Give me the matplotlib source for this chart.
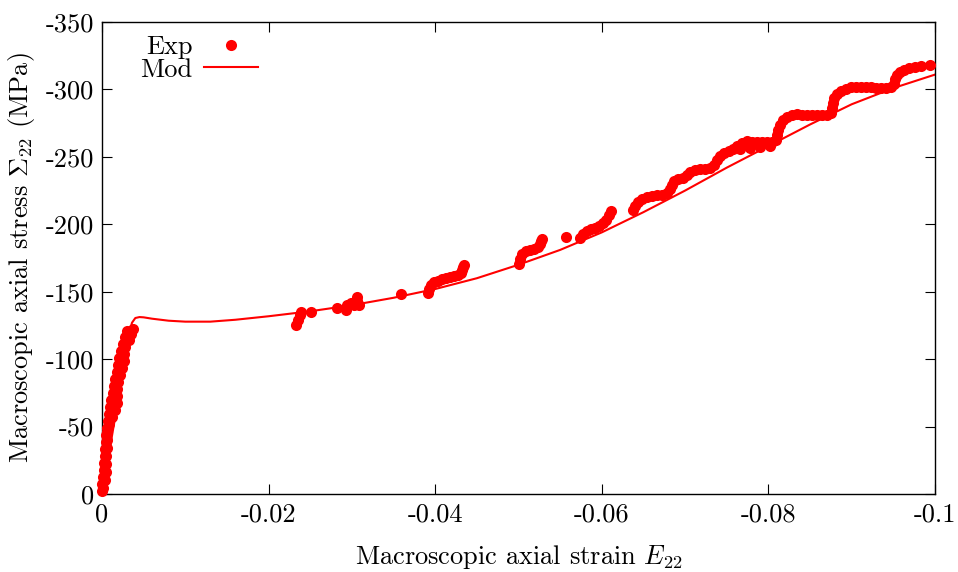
import matplotlib
matplotlib.use("Agg")
import matplotlib.pyplot as plt
from matplotlib.ticker import FixedLocator

plt.rcParams['font.family'] = ['cmr10', 'DejaVu Serif']
plt.rcParams['mathtext.fontset'] = 'cm'
plt.rcParams['axes.unicode_minus'] = False

# ---------------- data ----------------
# Experimental points (strain, stress in MPa)
exp_strain = [
    # elastic loading (left edge of band)
    0, 0, -0.00012, -0.00024, -0.00024, -0.00036, -0.00036, -0.00048, -0.00048, -0.0006,
    -0.00072, -0.00084, -0.00096, -0.00108, -0.00132, -0.00144, -0.00156, -0.0018, -0.00192, -0.00204,
    -0.00228, -0.00252, -0.00276, -0.003,
    # elastic loading (right edge of band)
    -0.00012, -0.00036, -0.00048, -0.00048, -0.00048, -0.0006, -0.0006, -0.0006, -0.00084, -0.0012,
    -0.00156, -0.0018, -0.0018, -0.0018, -0.00192, -0.00216, -0.0024, -0.00264, -0.00264, -0.00276,
    -0.00325, -0.00349, -0.00373,
    # around -0.024
    -0.02332, -0.02356, -0.0238, -0.02392, -0.02512,
    # around -0.03
    -0.02825, -0.02933, -0.02945, -0.02993, -0.03029, -0.03065, -0.03065, -0.03089,
    -0.03594,
    # around -0.04
    -0.03918, -0.0393, -0.03954, -0.0399, -0.04038, -0.04087, -0.04135, -0.04183, -0.04231, -0.04279,
    -0.04315, -0.04327, -0.04339, -0.04351,
    # around -0.05
    -0.05, -0.05024, -0.05048, -0.05096, -0.05144, -0.05192, -0.0524, -0.05264, -0.05276, -0.05288,
    -0.05565,
    # around -0.06
    -0.05733, -0.05769, -0.05817, -0.05865, -0.05913, -0.05962, -0.0601, -0.06046, -0.06082, -0.06106,
    # -0.063 to -0.1
    -0.0637, -0.06394, -0.0643, -0.06478, -0.06538, -0.06599, -0.06659, -0.06719, -0.06779, -0.06815,
    -0.06839, -0.06863, -0.06911, -0.06971, -0.07019, -0.07055, -0.07115, -0.07175, -0.07236, -0.07296,
    -0.07344, -0.0738, -0.07416, -0.07464, -0.07524, -0.07572, -0.0762, -0.0768, -0.0774, -0.078,
    -0.07861, -0.07921, -0.07981, -0.08041, -0.08089, -0.08101, -0.08113, -0.08137, -0.08173, -0.08221,
    -0.08281, -0.08341, -0.08401, -0.08462, -0.08522, -0.08582, -0.08642, -0.08702, -0.0875, -0.08762,
    -0.08774, -0.08786, -0.08822, -0.0887, -0.0893, -0.0899, -0.0905, -0.09111, -0.09171, -0.09231,
    -0.09291, -0.09351, -0.09411, -0.09471, -0.09507, -0.09519, -0.09543, -0.09579, -0.09627, -0.09688,
    -0.0976, -0.09832, -0.0994,
    # lower strand near -0.077
    -0.07656, -0.07776, -0.07897, -0.08017,
]
exp_stress = [
    -2.2, -7.4, -12.6, -17.8, -23.0, -28.2, -33.4, -38.6, -43.7, -48.9,
    -54.1, -59.3, -64.5, -69.7, -74.9, -80.1, -85.3, -90.5, -95.7, -100.8,
    -106.0, -111.2, -116.4, -120.9,
    -4.4, -10.4, -16.3, -22.2, -28.2, -34.1, -40.0, -46.0, -51.9, -57.1,
    -62.3, -67.5, -72.7, -77.9, -83.0, -88.2, -93.4, -98.6, -103.8, -109.0,
    -114.2, -118.6, -122.3,
    -125.3, -129.0, -132.7, -135.0, -135.0,
    -137.9, -136.4, -140.1, -141.6, -140.1, -146.1, -143.1, -140.1,
    -148.3,
    -149.0, -152.0, -155.0, -157.2, -157.9, -159.4, -160.2, -160.9, -161.7, -162.4,
    -163.9, -166.1, -168.3, -169.8,
    -170.5, -174.3, -178.0, -180.2, -180.9, -181.7, -183.2, -185.4, -187.6, -189.1,
    -190.6,
    -189.8, -192.8, -195.0, -196.5, -197.2, -198.7, -201.0, -203.2, -206.9, -209.9,
    -210.6, -213.6, -216.5, -218.7, -220.2, -221.0, -221.7, -221.7, -223.2, -226.2,
    -229.1, -232.1, -233.6, -234.3, -236.5, -238.8, -240.3, -241.0, -241.0, -241.7,
    -244.0, -247.7, -250.6, -252.9, -254.3, -255.8, -258.0, -260.3, -261.8, -261.0,
    -261.0, -261.0, -261.0, -261.0, -262.5, -266.2, -269.9, -273.6, -277.3, -279.5,
    -281.0, -281.8, -281.0, -281.0, -281.0, -281.0, -281.0, -281.0, -282.5, -286.2,
    -289.9, -293.6, -296.6, -298.8, -300.3, -301.8, -301.8, -301.8, -301.8, -301.8,
    -301.1, -301.1, -301.1, -301.8, -304.0, -307.7, -310.7, -312.9, -314.4, -315.9,
    -316.6, -317.4, -318.1,
    -255.8, -256.6, -257.3, -258.0,
]

# Model curve (strain, stress in MPa)
mod_strain = [0, -0.0005, -0.001, -0.0015, -0.002, -0.0025, -0.003, -0.0033, -0.0036, -0.004,
              -0.0045, -0.005, -0.006, -0.008, -0.01, -0.013, -0.016, -0.02, -0.025, -0.03,
              -0.035, -0.04, -0.045, -0.05, -0.055, -0.06, -0.065, -0.07, -0.075, -0.08,
              -0.085, -0.09, -0.095, -0.1]
mod_stress = [0, -18, -36, -54, -72, -90, -108, -120, -127, -130.5,
              -131.2, -131, -130, -128.5, -127.8, -127.8, -129.2, -131.8, -135.5, -140,
              -145.5, -152, -160, -170, -181, -194, -209, -225, -242, -258,
              -274, -289, -301, -311]

x_ticks = [0, -0.02, -0.04, -0.06, -0.08, -0.1]
x_tick_labels = ['0', '-0.02', '-0.04', '-0.06', '-0.08', '-0.1']
y_ticks = [0, -50, -100, -150, -200, -250, -300, -350]
y_tick_labels = ['0', '-50', '-100', '-150', '-200', '-250', '-300', '-350']

# ---------------- figure ----------------
fig = plt.figure(figsize=(9.58, 5.72), dpi=100)
ax = fig.add_axes([102 / 958, 1 - 494 / 572, (935 - 102) / 958, (494 - 22) / 572])

ax.plot(exp_strain, exp_stress, linestyle='none', marker='o', markersize=8.0,
        color='#ff0000', markeredgewidth=0, label='Exp', clip_on=False, zorder=3)
ax.plot(mod_strain, mod_stress, color='#ff0000', linewidth=1.5, label='Mod', zorder=2)

ax.set_xlim(0, -0.1)
ax.set_ylim(0, -350)

ax.xaxis.set_major_locator(FixedLocator(x_ticks))
ax.set_xticklabels(x_tick_labels)
ax.yaxis.set_major_locator(FixedLocator(y_ticks))
ax.set_yticklabels(y_tick_labels)

ax.tick_params(direction='in', length=7, width=0.8, top=True, right=True,
               labelsize=19, pad=6, colors='black')
for s in ax.spines.values():
    s.set_linewidth(1.0)

ax.set_xlabel(r'Macroscopic axial strain $E_{22}$', fontsize=19, labelpad=12)
ax.set_ylabel(r'Macroscopic axial stress $\Sigma_{22}$ (MPa)', fontsize=19, labelpad=6)

leg = ax.legend(loc='upper left', bbox_to_anchor=(0.0205, 1.016), frameon=False,
                markerfirst=False, fontsize=19, handlelength=2.05, handletextpad=0.45,
                labelspacing=-0.05, borderpad=0.3, numpoints=1)

fig.savefig('out.png', dpi=100)
